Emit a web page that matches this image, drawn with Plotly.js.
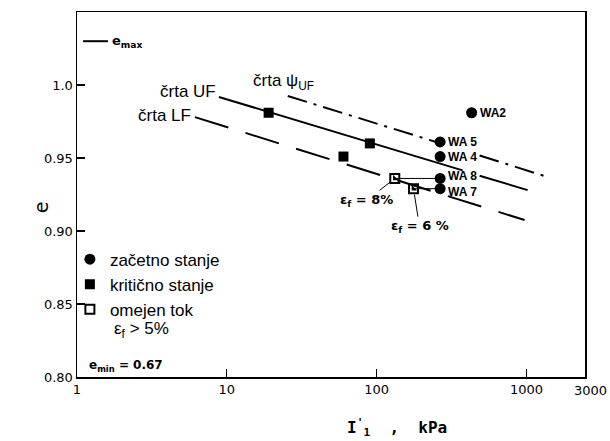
<!DOCTYPE html>
<html>
<head>
<meta charset="utf-8">
<script src="https://cdn.plot.ly/plotly-3.0.1.min.js"></script>
<style>html,body{margin:0;padding:0;background:#fff;}#chart{width:610px;height:441px;}</style>
</head>
<body>
<div id="chart"></div>
<script>
// ---- data ----
const xTickVals = [1, 10, 100, 1000];
const xTickText = ["1", "10", "100", "1000"];
const yTickVals = [0.80, 0.85, 0.90, 0.95, 1.0];
const yTickText = ["0.80", "0.85", "0.90", "0.95", "1.0"];

// začetno stanje (initial state)
const initialLabels = ["WA2", "WA 5", "WA 4", "WA 8", "WA 7"];
const initialX = [430, 265, 265, 265, 265];
const initialY = [0.981, 0.961, 0.951, 0.936, 0.929];

// kritično stanje (critical state)
const criticalX = [19, 90, 60];
const criticalY = [0.981, 0.960, 0.951];

// omejen tok (limited flow, eps_f > 5%)
const limitedX = [132, 176];
const limitedY = [0.936, 0.929];
const limitedStrain = ["ε<sub>f</sub> = 8%", "ε<sub>f</sub> = 6 %"];

// črta UF (solid, with a gap at the WA labels)
const ufX = [8.85, 374, null, 486, 1016];
const ufY = [0.9918, 0.9415, null, 0.9379, 0.928];
// črta LF (long dashes)
const lfX = [6.12, 970];
const lfY = [0.978, 0.9075];
// črta psi UF (dash-dot, gap at the WA labels)
const psiX = [25.5, 255, null, 486, 1380];
const psiY = [0.9925, 0.9606, null, 0.9517, 0.937];

const emaxText = "e<sub>max</sub>";
const eminText = "e<sub>min</sub> = 0.67";

// ---- figure ----
const black = "#000";
const connX = [limitedX[0], initialX[3], null, limitedX[1], initialX[4]];
const connY = [limitedY[0], limitedY[0], null, limitedY[1], limitedY[1]];

const traces = [
  {x: ufX, y: ufY, mode: "lines", line: {color: black, width: 2}, showlegend: false, hoverinfo: "skip"},
  {x: lfX, y: lfY, mode: "lines", line: {color: black, width: 2, dash: "35px,18px"}, showlegend: false, hoverinfo: "skip"},
  {x: psiX, y: psiY, mode: "lines", line: {color: black, width: 2, dash: "20px,7px,3px,7px"}, showlegend: false, hoverinfo: "skip"},
  {x: connX, y: connY, mode: "lines", line: {color: black, width: 1}, showlegend: false, hoverinfo: "skip"},
  {x: initialX, y: initialY, mode: "markers", name: "začetno stanje",
   marker: {symbol: "circle", size: 11, color: black}},
  {x: criticalX, y: criticalY, mode: "markers", name: "kritično stanje",
   marker: {symbol: "square", size: 10, color: black}},
  {x: limitedX, y: limitedY, mode: "markers", name: "omejen tok",
   marker: {symbol: "square-open", size: 9, color: black, line: {width: 2, color: black}}},
  {x: limitedX, y: limitedY, mode: "markers", showlegend: false,
   marker: {symbol: "triangle-sw", size: 6, color: black, line: {width: 0}}}
];

const txt = {family: "Liberation Sans, Arial", size: 17, color: black};
const labelShift = [0, 0, 0, 2, -3];

const annotations = initialLabels.map((s, i) => ({
  x: Math.log10(initialX[i]), y: initialY[i], xref: "x", yref: "y", text: s, showarrow: false,
  xanchor: "left", yanchor: "middle", xshift: 6, yshift: labelShift[i],
  font: {family: "Liberation Sans, Arial", size: 12, color: black, weight: "bold"}
})).concat([
  {x: Math.log10(ufX[0]), y: ufY[0], xref: "x", yref: "y", text: "črta UF", showarrow: false,
   xanchor: "right", yanchor: "middle", xshift: -1, yshift: 5, font: txt},
  {x: Math.log10(lfX[0]), y: lfY[0], xref: "x", yref: "y", text: "črta LF", showarrow: false,
   xanchor: "right", yanchor: "middle", xshift: -2, yshift: 2, font: txt},
  {x: Math.log10(psiX[0]), y: psiY[0], xref: "x", yref: "y", text: "črta ψ<sub>UF</sub>", showarrow: false,
   xanchor: "left", yanchor: "middle", xshift: -37, yshift: 14, font: txt},
  {x: Math.log10(limitedX[0]), y: limitedY[0], xref: "x", yref: "y", text: limitedStrain[0],
   showarrow: true, arrowhead: 0, arrowwidth: 1, arrowcolor: black, ax: -28, ay: 22, standoff: 5,
   font: {family: "DejaVu Sans", size: 13, color: black, weight: "bold"}},
  {x: Math.log10(limitedX[1]), y: limitedY[1], xref: "x", yref: "y", text: limitedStrain[1],
   showarrow: true, arrowhead: 0, arrowwidth: 1, arrowcolor: black, ax: 6, ay: 38, standoff: 6,
   font: {family: "DejaVu Sans", size: 13, color: black, weight: "bold"}},
  {x: 0.065, y: 0.92, xref: "paper", yref: "paper", text: emaxText, showarrow: false,
   xanchor: "left", yanchor: "middle", font: {family: "DejaVu Sans", size: 13, color: black, weight: "bold"}},
  {x: 0.02, y: 0.03, xref: "paper", yref: "paper", text: eminText, showarrow: false,
   xanchor: "left", yanchor: "middle", font: {family: "DejaVu Sans", size: 12, color: black, weight: "bold"}},
  {x: 0.069, y: 0.128, xref: "paper", yref: "paper", text: "ε<sub>f</sub> > 5%", showarrow: false,
   xanchor: "left", yanchor: "middle", font: txt},
  {x: 1, y: 0, xref: "paper", yref: "paper", text: "3000", showarrow: false,
   xanchor: "center", yanchor: "top", xshift: 5, yshift: -4,
   font: {family: "DejaVu Sans", size: 13, color: black}},
  {x: 0.63, y: 0, xref: "paper", yref: "paper", text: "I<sup>'</sup><sub>1</sub>  ,  kPa", showarrow: false,
   xanchor: "center", yanchor: "middle", yshift: -50,
   font: {family: "DejaVu Sans Mono, DejaVu Sans", size: 16, color: black, weight: "bold"}},
  {x: -0.072, y: 0.466, xref: "paper", yref: "paper", text: "e", showarrow: false, textangle: -90,
   xanchor: "center", yanchor: "middle", font: {family: "DejaVu Sans", size: 19, color: black}}
]);

const layout = {
  width: 610, height: 441,
  margin: {l: 77, r: 25, t: 12, b: 64},
  paper_bgcolor: "#fff", plot_bgcolor: "#fff",
  showlegend: true,
  legend: {x: -0.014, y: 0.371, xanchor: "left", yanchor: "top", bgcolor: "rgba(0,0,0,0)",
           font: txt, tracegroupgap: 0, itemwidth: 30},
  xaxis: {type: "log", range: [0, 3.39], tickvals: xTickVals, ticktext: xTickText,
          ticks: "inside", ticklen: 8, tickwidth: 1.2, tickcolor: black,
          showline: true, linewidth: 1.5, linecolor: black, mirror: true,
          showgrid: false, zeroline: false,
          tickfont: {family: "DejaVu Sans", size: 13, color: black}},
  yaxis: {range: [0.80, 1.05], tickvals: yTickVals, ticktext: yTickText,
          ticks: "inside", ticklen: 8, tickwidth: 1.2, tickcolor: black,
          showline: true, linewidth: 1.5, linecolor: black, mirror: true,
          showgrid: false, zeroline: false,
          tickfont: {family: "DejaVu Sans", size: 13, color: black}},
  shapes: [
    {type: "line", xref: "paper", yref: "paper", x0: 0.012, x1: 0.061, y0: 0.92, y1: 0.92,
     line: {color: black, width: 2}}
  ],
  annotations: annotations
};

Plotly.newPlot("chart", traces, layout, {displayModeBar: false, staticPlot: true});
</script>
</body>
</html>
